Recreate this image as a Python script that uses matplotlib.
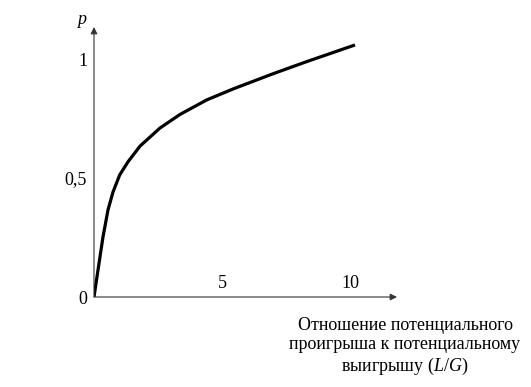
import numpy as np
import matplotlib.pyplot as plt

plt.rcParams['font.family'] = ['Liberation Serif', 'DejaVu Serif']
plt.rcParams['mathtext.fontset'] = 'custom'
plt.rcParams['mathtext.rm'] = 'Liberation Serif'
plt.rcParams['mathtext.it'] = 'Liberation Serif:italic'

# кривая p от отношения L/G
lg = [0.0, 0.156, 0.352, 0.547, 0.742, 1.004, 1.328, 1.797, 2.188, 2.578,
      3.359, 4.402, 5.43, 6.406, 6.992, 8.309, 10.195]
p = [0.0, 0.113, 0.253, 0.366, 0.441, 0.513, 0.568, 0.634, 0.672, 0.710,
     0.767, 0.828, 0.874, 0.914, 0.938, 0.989, 1.059]

xticks = [5, 10]
xlabels = ["5", "10"]
yticks = [0, 0.5, 1]
ylabels = ["0", "0,5", "1"]

fig = plt.figure(figsize=(5.31, 3.87), dpi=100)
ax = fig.add_axes([94 / 531, 90 / 387, 303 / 531, 270 / 387])
ax.set_xlim(0, 303 / 25.6)
ax.set_ylim(0, 270 / 238)

ax.plot(lg, p, color="black", lw=2.3, solid_joinstyle="round",
        solid_capstyle="butt")

for s in ax.spines.values():
    s.set_visible(False)

# оси со стрелками
ax.annotate("", xy=(1, 0), xytext=(0, 0), xycoords="axes fraction",
            arrowprops=dict(arrowstyle="-|>", color="#333333", lw=0.8,
                            mutation_scale=10, shrinkA=0, shrinkB=0))
ax.annotate("", xy=(0, 1), xytext=(0, 0), xycoords="axes fraction",
            arrowprops=dict(arrowstyle="-|>", color="#333333", lw=0.8,
                            mutation_scale=10, shrinkA=0, shrinkB=0))

ax.set_xticks(xticks)
ax.set_xticklabels(xlabels)
ax.set_yticks(yticks)
ax.set_yticklabels(ylabels)
ax.tick_params(axis="x", length=0, pad=-16, labelsize=13)
ax.tick_params(axis="y", length=0, pad=5, labelsize=13)

fig.text(82 / 531, 1 - 20 / 387, "p", style="italic", fontsize=13,
         ha="center", va="center")

fig.text(405 / 531, 1 - 347 / 387,
         "Отношение потенциального\nпроигрыша к потенциальному\nвыигрышу ($L/G$)",
         ha="center", va="center", fontsize=13, linespacing=1.2)

fig.savefig("out.png", dpi=100)
